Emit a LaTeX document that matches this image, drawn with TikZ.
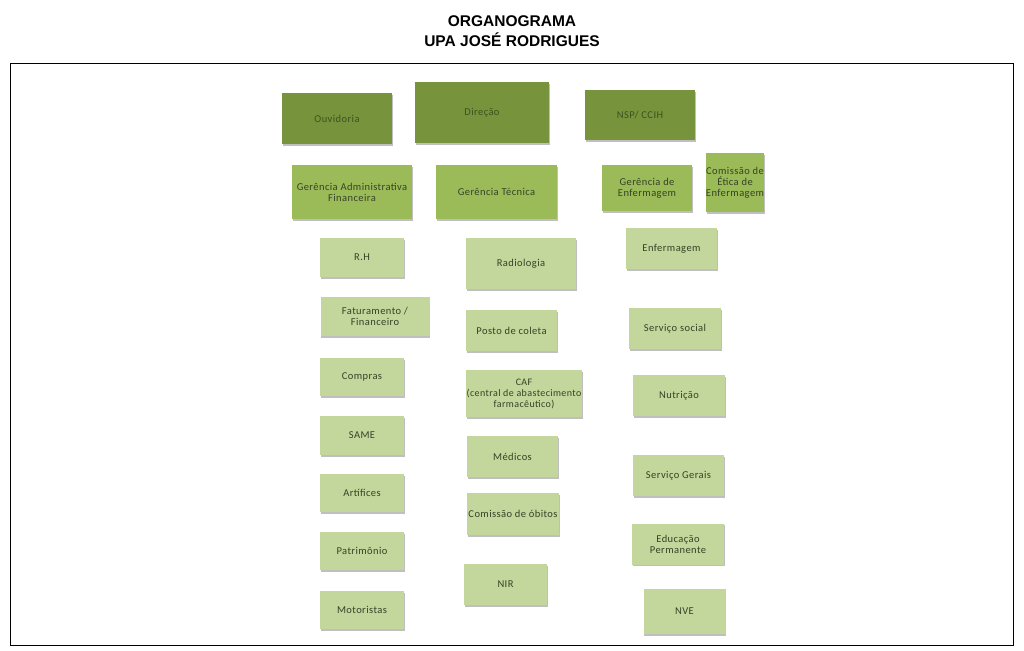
\documentclass[tikz,border=0pt]{standalone}
\usepackage{fontspec}
\setmainfont[LetterSpace=4]{Carlito}
\newfontfamily\titlefont{Liberation Sans}
\usetikzlibrary{shadows}
\definecolor{darkg}{HTML}{77933C}
\definecolor{midg}{HTML}{9BBB59}
\definecolor{paleg}{HTML}{C3D69B}
\definecolor{txtd}{HTML}{3F521E}
\definecolor{txtp}{HTML}{364226}
\begin{document}
\begin{tikzpicture}[x=1pt,y=-1pt,
  base/.style={rectangle, draw=none, inner sep=0pt, align=center,
    font=\fontsize{10.5}{11}\selectfont,
    drop shadow={shadow xshift=0.6pt, shadow yshift=-1.6pt, fill=black!45, opacity=0.55}},
  dbox/.style={base, fill=darkg, text=txtd},
  mbox/.style={base, fill=midg, text=txtp},
  pbox/.style={base, fill=paleg, text=txtp},
  sz/.style 2 args={minimum width=#1pt, minimum height=#2pt},
  ttl/.style={font=\titlefont\bfseries\fontsize{15.5}{17}\selectfont, inner sep=0pt}]
\useasboundingbox (0,0) rectangle (1024,650);
\fill[white] (0,0) rectangle (1024,650);
\node[ttl] (t1) at (512,21) {ORGANOGRAMA};
\node[ttl] (t2) at (512,40) {UPA JOSÉ RODRIGUES};
\node[draw=black, line width=0.8pt, minimum width=1003pt, minimum height=582pt, inner sep=0pt] (frame) at (511.5,354) {};
% top row
\node[dbox, sz={110}{51}] (ouv) at (337,118.5) {Ouvidoria};
\node[dbox, sz={134}{61}] (dir) at (482,112.5) {Direção};
\node[dbox, sz={110}{50}] (nsp) at (640,115) {NSP/ CCIH};
% managers
\node[mbox, sz={120}{54}] (gadm) at (352,192) {Gerência Administrativa\\Financeira};
\node[mbox, sz={121}{54}] (gtec) at (496.5,192) {Gerência Técnica};
\node[mbox, sz={90}{46}] (genf) at (647,188) {Gerência de\\Enfermagem};
\node[mbox, sz={58}{59}] (cee) at (735,182.5) {Comissão de\\Ética de\\Enfermagem};
% left column
\node[pbox, sz={84}{39}] (rh) at (362,257.5) {R.H};
\node[pbox, sz={109}{39}] (fat) at (375,316.5) {Faturamento /\\Financeiro};
\node[pbox, sz={84}{38}] (comp) at (362,377) {Compras};
\node[pbox, sz={84}{39}] (same) at (362,435.5) {SAME};
\node[pbox, sz={84}{38}] (art) at (362,493) {Artífices};
\node[pbox, sz={84}{38}] (pat) at (362,551) {Patrimônio};
\node[pbox, sz={84}{38}] (mot) at (362,610) {Motoristas};
% middle column
\node[pbox, sz={110}{51}] (rad) at (521,263.5) {Radiologia};
\node[pbox, sz={91}{41}] (pos) at (511.5,330.5) {Posto de coleta};
\node[pbox, sz={116}{47}, font=\fontsize{10}{11}\selectfont] (caf) at (524,393.5) {CAF\\(central de abastecimento\\farmacêutico)};
\node[pbox, sz={91}{41}] (med) at (512.5,456.5) {Médicos};
\node[pbox, sz={92}{42}] (cob) at (513,514) {Comissão de óbitos};
\node[pbox, sz={83}{41}] (nir) at (505.5,584.5) {NIR};
% right column
\node[pbox, sz={91}{41}] (enf) at (671.5,248.5) {Enfermagem};
\node[pbox, sz={92}{41}] (ss) at (675,328.5) {Serviço social};
\node[pbox, sz={92}{41}] (nut) at (679,395.5) {Nutrição};
\node[pbox, sz={91}{41}] (sg) at (678.5,475.5) {Serviço Gerais};
\node[pbox, sz={92}{41}] (edu) at (678,544) {Educação\\Permanente};
\node[pbox, sz={82}{45}] (nve) at (684.5,611.5) {NVE};
\end{tikzpicture}
\end{document}
